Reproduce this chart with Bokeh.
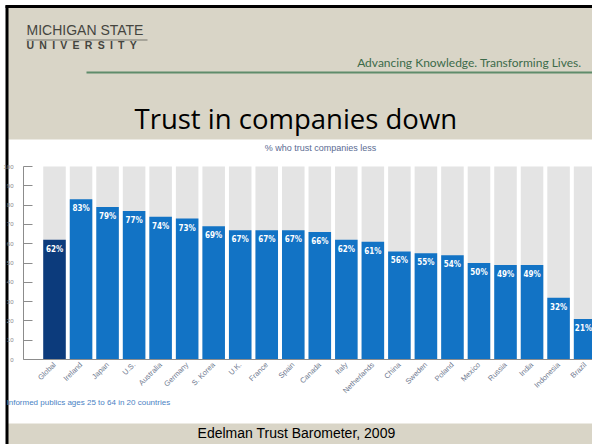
import math
from bokeh.plotting import figure
from bokeh.models import Label, BoxAnnotation, FixedTicker, ColumnDataSource
from bokeh.core.properties import value
from bokeh.embed import file_html
from bokeh.resources import INLINE

# ---------------- data ----------------
countries = ["Global", "Ireland", "Japan", "U.S.", "Australia", "Germany", "S. Korea",
             "U.K.", "France", "Spain", "Canada", "Italy", "Netherlands", "China",
             "Sweden", "Poland", "Mexico", "Russia", "India", "Indonesia", "Brazil"]
pct = [62, 83, 79, 77, 74, 73, 69, 67, 67, 67, 66, 62, 61, 56, 55, 54, 50, 49, 49, 32, 21]
y_ticks = [0, 10, 20, 30, 40, 50, 60, 70, 80, 90, 100]
scale_max = 100

# ---------------- styling / layout ----------------
W, H = 592, 444
SP = 26.53          # px between bar centres
X0 = 54.0           # px of first bar centre
PY = 1.93           # px per percent
Y0 = H - 359.0      # px from bottom of value 0

x_start = -X0 / SP
x_end = (W - X0) / SP
y_start = -Y0 / PY
y_end = (H - Y0) / PY


def dx(px):
    return (px - X0) / SP


def dy(py):
    return ((H - py) - Y0) / PY


BEIGE = "#d9d5c7"
NAVY = "#0c3b7c"
BLUE = "#1273c5"
GREY_BAR = "#e4e4e4"

n = len(countries)
idx = list(range(n))
colors = [NAVY] + [BLUE] * (n - 1)
labels = [f"{v}%" for v in pct]
# keep the last (edge) label inside the canvas
aligns = ["center"] * (n - 1) + ["right"]
xoffs = [0] * (n - 1) + [7]

src = ColumnDataSource(dict(x=idx, top=pct, full=[scale_max] * n, color=colors, label=labels,
                            align=aligns, xoff=xoffs))

p = figure(width=W, height=H, x_range=(x_start, x_end), y_range=(y_start, y_end),
           output_backend="svg", toolbar_location=None,
           min_border=0, min_border_left=0, min_border_right=0,
           min_border_top=0, min_border_bottom=0)
p.background_fill_color = "white"
p.border_fill_color = "white"
p.outline_line_color = None
p.xgrid.visible = False
p.ygrid.visible = False

# slide background, chart panel, slide border
p.add_layout(BoxAnnotation(left=dx(7), top=dy(7), fill_color=BEIGE, fill_alpha=1.0,
                           line_color=None, level="underlay"))
p.add_layout(BoxAnnotation(left=dx(7), top=dy(139), bottom=dy(423), fill_color="white",
                           fill_alpha=1.0, line_color=None, level="underlay"))
p.segment(x0=[dx(6.5)], y0=[dy(5)], x1=[dx(6.5)], y1=[y_start], line_color="black", line_width=3)
p.segment(x0=[dx(5)], y0=[dy(6)], x1=[x_end], y1=[dy(6)], line_color="black", line_width=3)

# header decorations
p.segment(x0=[dx(86)], y0=[dy(72)], x1=[x_end], y1=[dy(72)], line_color="#5f8c6b", line_width=2)
p.segment(x0=[dx(26)], y0=[dy(39.5)], x1=[dx(147)], y1=[dy(39.5)], line_color="#77766f", line_width=1.2)

p.add_layout(Label(x=dx(26), y=dy(37.3), text="MICHIGAN STATE", text_font="Liberation Sans",
                   text_font_size="14px", text_color="#45453f"))
p.add_layout(Label(x=dx(26), y=dy(50.5), text="U\u2002N\u2002I\u2002V\u2002E\u2002R\u2002S\u2002I\u2002T\u2002Y",
                   text_font="Liberation Sans", text_font_size="10.5px", text_font_style="bold",
                   text_color="#45453f"))
p.add_layout(Label(x=dx(581), y=dy(69.5), text="Advancing Knowledge. Transforming Lives.",
                   text_align="right", text_font="Lato", text_font_size="12px", text_color="#3c6b4a"))
p.add_layout(Label(x=dx(134), y=dy(136), text="Trust in companies down",
                   text_font="Open Sans", text_font_size="27.5px", text_color="black"))

# chart texts
p.add_layout(Label(x=dx(320), y=dy(152.5), text="% who trust companies less", text_align="center",
                   text_font="Liberation Sans", text_font_size="9px", text_color="#5b6b92"))
p.add_layout(Label(x=dx(6), y=dy(406.5), text="Informed publics ages 25 to 64 in 20 countries",
                   text_font="Liberation Sans", text_font_size="8px", text_color="#4a82c4"))
p.add_layout(Label(x=dx(296), y=dy(440), text="Edelman Trust Barometer, 2009", text_align="center",
                   text_font="Liberation Sans", text_font_size="14px", text_color="black"))

# bars
p.vbar(x="x", top="full", bottom=0, width=0.85, source=src, fill_color=GREY_BAR, line_color=None)
p.vbar(x="x", top="top", bottom=0, width=0.85, source=src, fill_color="color", line_color=None)
p.text(x="x", y="top", text="label", source=src, text_align="align", x_offset="xoff",
       text_baseline="top", y_offset=5, text_color="white",
       text_font=value("DejaVu Sans Condensed"), text_font_size="8px", text_font_style="bold")

# axes
ya = p.yaxis[0]
ya.fixed_location = dx(23)
ya.ticker = FixedTicker(ticks=y_ticks)
ya.bounds = (0, scale_max)
ya.major_tick_in = 9
ya.major_tick_out = 0
ya.minor_tick_in = 0
ya.minor_tick_out = 0
ya.major_label_standoff = 10
ya.major_label_text_font = "Liberation Sans"
ya.major_label_text_font_size = "6px"
ya.major_label_text_color = "#888888"
ya.axis_line_color = "#8c8c8c"
ya.major_tick_line_color = "#8c8c8c"

xa = p.xaxis[0]
xa.fixed_location = 0
xa.ticker = FixedTicker(ticks=idx)
xa.major_label_overrides = {i: c for i, c in zip(idx, countries)}
xa.bounds = (dx(23), x_end)
xa.major_tick_in = 0
xa.major_tick_out = 0
xa.minor_tick_in = 0
xa.minor_tick_out = 0
xa.major_label_orientation = math.pi / 4
xa.major_label_standoff = 4
xa.major_label_text_font = "Liberation Sans"
xa.major_label_text_font_size = "7.5px"
xa.major_label_text_color = "#6f7a90"
xa.axis_line_color = "#8c8c8c"

open("out.html", "w").write(file_html(p, INLINE))
